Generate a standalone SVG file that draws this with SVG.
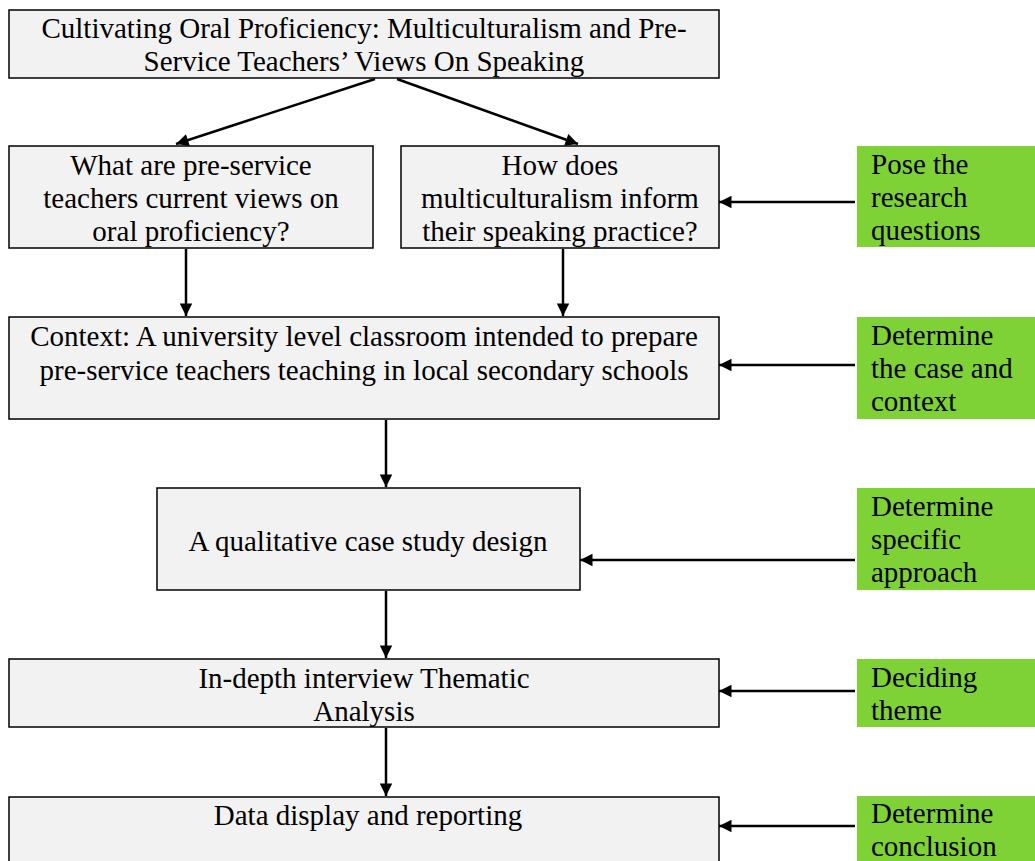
<svg xmlns="http://www.w3.org/2000/svg" width="1035" height="861" viewBox="0 0 1035 861">
<defs>
<style>
.box{fill:#f2f2f2;stroke:#000;stroke-width:1.5}
.green{fill:#7ed235;stroke:none}
text{font-family:"Liberation Serif","Times New Roman",serif;font-size:29px;fill:#000}
.c{text-anchor:middle}
.l{text-anchor:start}
.conn line{stroke:#000;stroke-width:2.5;marker-end:url(#ah)}
</style>
<marker id="ah" viewBox="0 0 10 10" refX="10" refY="5" markerWidth="5.5" markerHeight="5" markerUnits="strokeWidth" orient="auto">
<path d="M0,0 L10,5 L0,10 z" fill="#000"/>
</marker>
</defs>
<rect width="1035" height="861" fill="#fff"/>

<g id="title">
<rect class="box" x="9" y="10" width="710" height="68"/>
<text class="c" x="364" y="38">Cultivating Oral Proficiency: Multiculturalism and Pre-</text>
<text class="c" x="364" y="71">Service Teachers’ Views On Speaking</text>
</g>

<g id="q1">
<rect class="box" x="9" y="146" width="364" height="102"/>
<text class="c" x="191" y="175">What are pre-service</text>
<text class="c" x="191" y="208">teachers current views on</text>
<text class="c" x="191" y="241">oral proficiency?</text>
</g>

<g id="q2">
<rect class="box" x="401" y="146" width="318" height="102"/>
<text class="c" x="560" y="175">How does</text>
<text class="c" x="560" y="208">multiculturalism inform</text>
<text class="c" x="560" y="241">their speaking practice?</text>
</g>

<g id="context">
<rect class="box" x="9" y="317" width="710" height="102"/>
<text class="c" x="364" y="346">Context: A university level classroom intended to prepare</text>
<text class="c" x="364" y="380">pre-service teachers teaching in local secondary schools</text>
</g>

<g id="design">
<rect class="box" x="157" y="488" width="423" height="102"/>
<text class="c" x="368" y="551">A qualitative case study design</text>
</g>

<g id="interview">
<rect class="box" x="9" y="659" width="710" height="68"/>
<text class="c" x="364" y="688">In-depth interview Thematic</text>
<text class="c" x="364" y="721">Analysis</text>
</g>

<g id="report">
<rect class="box" x="9" y="797" width="710" height="80"/>
<text class="c" x="368" y="825">Data display and reporting</text>
</g>

<g id="g1">
<rect class="green" x="857" y="146" width="178" height="101"/>
<text class="l" x="871" y="174">Pose the</text>
<text class="l" x="871" y="207">research</text>
<text class="l" x="871" y="240">questions</text>
</g>

<g id="g2">
<rect class="green" x="857" y="317" width="178" height="102"/>
<text class="l" x="871" y="345">Determine</text>
<text class="l" x="871" y="378">the case and</text>
<text class="l" x="871" y="411">context</text>
</g>

<g id="g3">
<rect class="green" x="857" y="488" width="178" height="102"/>
<text class="l" x="871" y="516">Determine</text>
<text class="l" x="871" y="549">specific</text>
<text class="l" x="871" y="582">approach</text>
</g>

<g id="g4">
<rect class="green" x="857" y="659" width="178" height="68"/>
<text class="l" x="871" y="687">Deciding</text>
<text class="l" x="871" y="720">theme</text>
</g>

<g id="g5">
<rect class="green" x="857" y="796" width="178" height="70"/>
<text class="l" x="871" y="823">Determine</text>
<text class="l" x="871" y="856">conclusion</text>
</g>

<g id="connectors" class="conn">
<line x1="375" y1="79" x2="176" y2="144"/>
<line x1="397" y1="79" x2="578" y2="144"/>
<line x1="186" y1="249" x2="186" y2="316"/>
<line x1="563" y1="249" x2="563" y2="316"/>
<line x1="386" y1="420" x2="386" y2="487"/>
<line x1="386" y1="591" x2="386" y2="658"/>
<line x1="386" y1="728" x2="386" y2="796"/>
<line x1="855" y1="202" x2="719" y2="202"/>
<line x1="855" y1="365" x2="719" y2="365"/>
<line x1="855" y1="560" x2="580" y2="560"/>
<line x1="855" y1="691" x2="719" y2="691"/>
<line x1="855" y1="826" x2="719" y2="826"/>
</g>
</svg>
